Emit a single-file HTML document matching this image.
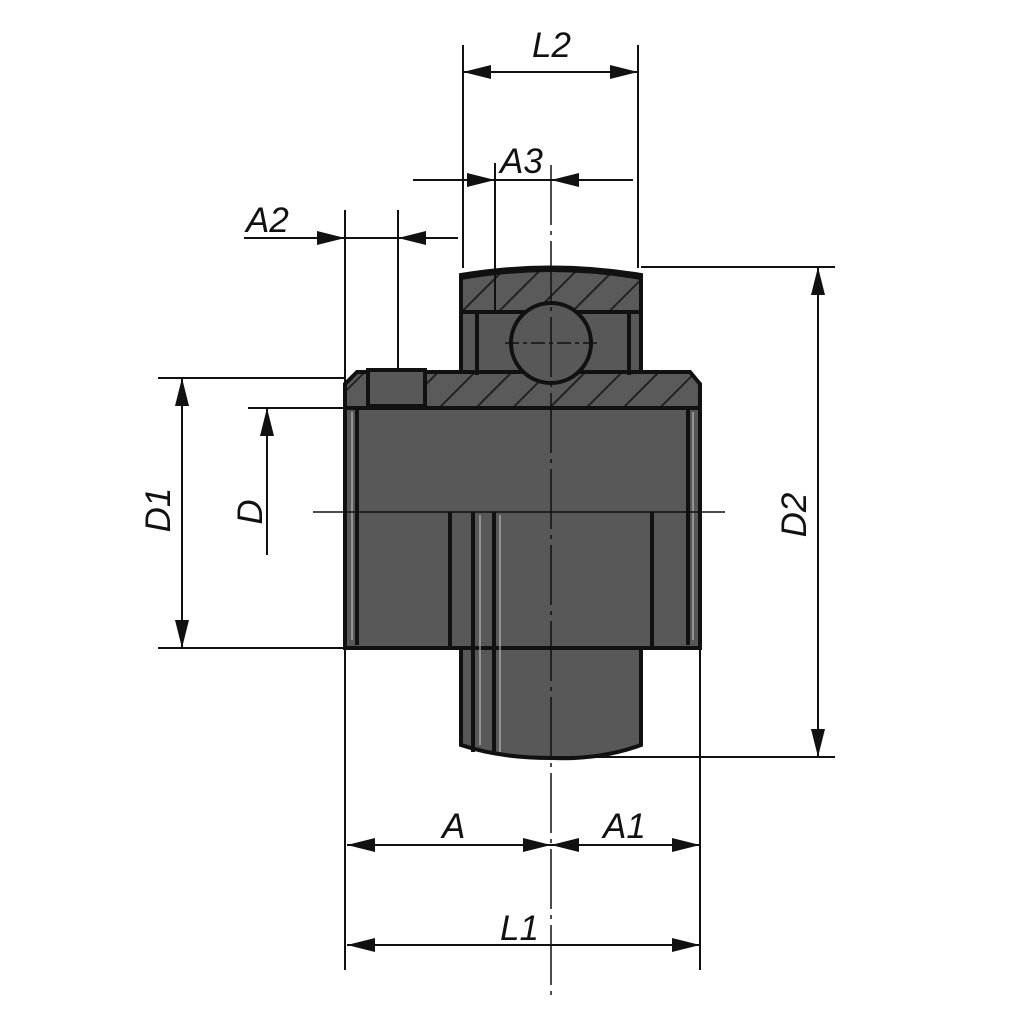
<!DOCTYPE html>
<html><head><meta charset="utf-8"><style>
html,body{margin:0;padding:0;background:#fff;}
svg{display:block}
text{font-family:"Liberation Sans",sans-serif;font-style:italic;font-size:35px;fill:#111;}
</style></head><body>
<svg width="1024" height="1024" viewBox="0 0 1024 1024" xmlns="http://www.w3.org/2000/svg">
<defs>
<marker id="ar" viewBox="0 0 20 10" refX="20" refY="5" markerWidth="46" markerHeight="14" markerUnits="userSpaceOnUse" orient="auto-start-reverse">
<path d="M0,0 L20,5 L0,10 z" fill="#111"/></marker>
<pattern id="hatch" patternUnits="userSpaceOnUse" width="26" height="26" patternTransform="rotate(45)">
<rect width="26" height="26" fill="#5a5a5a"/><line x1="0" y1="0" x2="0" y2="26" stroke="#222" stroke-width="4"/></pattern>
</defs>
<g fill="#585858" stroke="#111" stroke-width="4">
<path d="M461,505 L641,505 L641,745 Q600,760 551,758 Q500,758 461,745 Z"/>
<rect x="345" y="405" width="355" height="243"/>
<path d="M461,378 L461,275 Q551,260 641,275 L641,378 Z"/>
<path d="M461,278 Q551,262 641,278 L641,312 L461,312 Z" fill="url(#hatch)"/>
<path d="M357,372 L690,372 L700,384 L700,408 L345,408 L345,384 Z" fill="url(#hatch)"/>
<circle cx="551" cy="343" r="40"/>
<rect x="368" y="370" width="57" height="36"/>
</g>
<g stroke="#111" stroke-width="4" fill="none">
<line x1="357" y1="408" x2="357" y2="645"/>
<line x1="688" y1="408" x2="688" y2="645"/>
<line x1="450" y1="512" x2="450" y2="648"/>
<line x1="652" y1="512" x2="652" y2="648"/>
<line x1="473" y1="512" x2="473" y2="752"/>
<line x1="494" y1="512" x2="494" y2="755"/>
<line x1="477" y1="312" x2="477" y2="375"/>
<line x1="629" y1="312" x2="629" y2="375"/>
</g>
<g stroke="#bbb" stroke-width="1.2" fill="none">
<line x1="480" y1="515" x2="480" y2="745"/>
<line x1="500" y1="515" x2="500" y2="752"/>
<line x1="352" y1="412" x2="352" y2="640"/>
<line x1="693" y1="412" x2="693" y2="640"/>
</g>
<g stroke="#111" stroke-width="1.5" fill="none">
<line x1="313" y1="512" x2="725" y2="512"/>
<line x1="551" y1="165" x2="551" y2="1000" stroke-dasharray="60,6,4,6"/>
<line x1="505" y1="343" x2="600" y2="343" stroke-dasharray="14,4,4,4"/>
</g>
<g stroke="#111" stroke-width="2" fill="none">
<line x1="463" y1="45" x2="463" y2="268"/>
<line x1="638" y1="45" x2="638" y2="268"/>
<line x1="495" y1="163" x2="495" y2="310"/>
<line x1="345" y1="210" x2="345" y2="970"/>
<line x1="398" y1="210" x2="398" y2="370"/>
<line x1="700" y1="648" x2="700" y2="970"/>
<line x1="158" y1="378" x2="345" y2="378"/>
<line x1="158" y1="648" x2="345" y2="648"/>
<line x1="248" y1="408" x2="345" y2="408"/>
<line x1="641" y1="267" x2="835" y2="267"/>
<line x1="551" y1="757" x2="835" y2="757"/>
</g>
<g stroke="#111" stroke-width="2" fill="none">
<line x1="463" y1="72" x2="638" y2="72" marker-start="url(#ar)" marker-end="url(#ar)"/>
<line x1="413" y1="180" x2="495" y2="180" marker-end="url(#ar)"/>
<line x1="633" y1="180" x2="551" y2="180" marker-end="url(#ar)"/>
<line x1="495" y1="180" x2="551" y2="180"/>
<line x1="244" y1="238" x2="345" y2="238" marker-end="url(#ar)"/>
<line x1="458" y1="238" x2="398" y2="238" marker-end="url(#ar)"/>
<line x1="345" y1="238" x2="398" y2="238"/>
<line x1="182" y1="378" x2="182" y2="648" marker-start="url(#ar)" marker-end="url(#ar)"/>
<line x1="267" y1="555" x2="267" y2="408" marker-end="url(#ar)"/>
<line x1="818" y1="267" x2="818" y2="757" marker-start="url(#ar)" marker-end="url(#ar)"/>
<line x1="347" y1="845" x2="551" y2="845" marker-start="url(#ar)" marker-end="url(#ar)"/>
<line x1="551" y1="845" x2="700" y2="845" marker-start="url(#ar)" marker-end="url(#ar)"/>
<line x1="347" y1="945" x2="700" y2="945" marker-start="url(#ar)" marker-end="url(#ar)"/>
</g>
<text x="532" y="57">L2</text>
<text x="500" y="173">A3</text>
<text x="246" y="232">A2</text>
<text x="442" y="838">A</text>
<text x="603" y="838">A1</text>
<text x="500" y="940">L1</text>
<text transform="translate(170,510) rotate(-90)" text-anchor="middle">D1</text>
<text transform="translate(262,512) rotate(-90)" text-anchor="middle">D</text>
<text transform="translate(806,515) rotate(-90)" text-anchor="middle">D2</text>
</svg>
</body></html>
